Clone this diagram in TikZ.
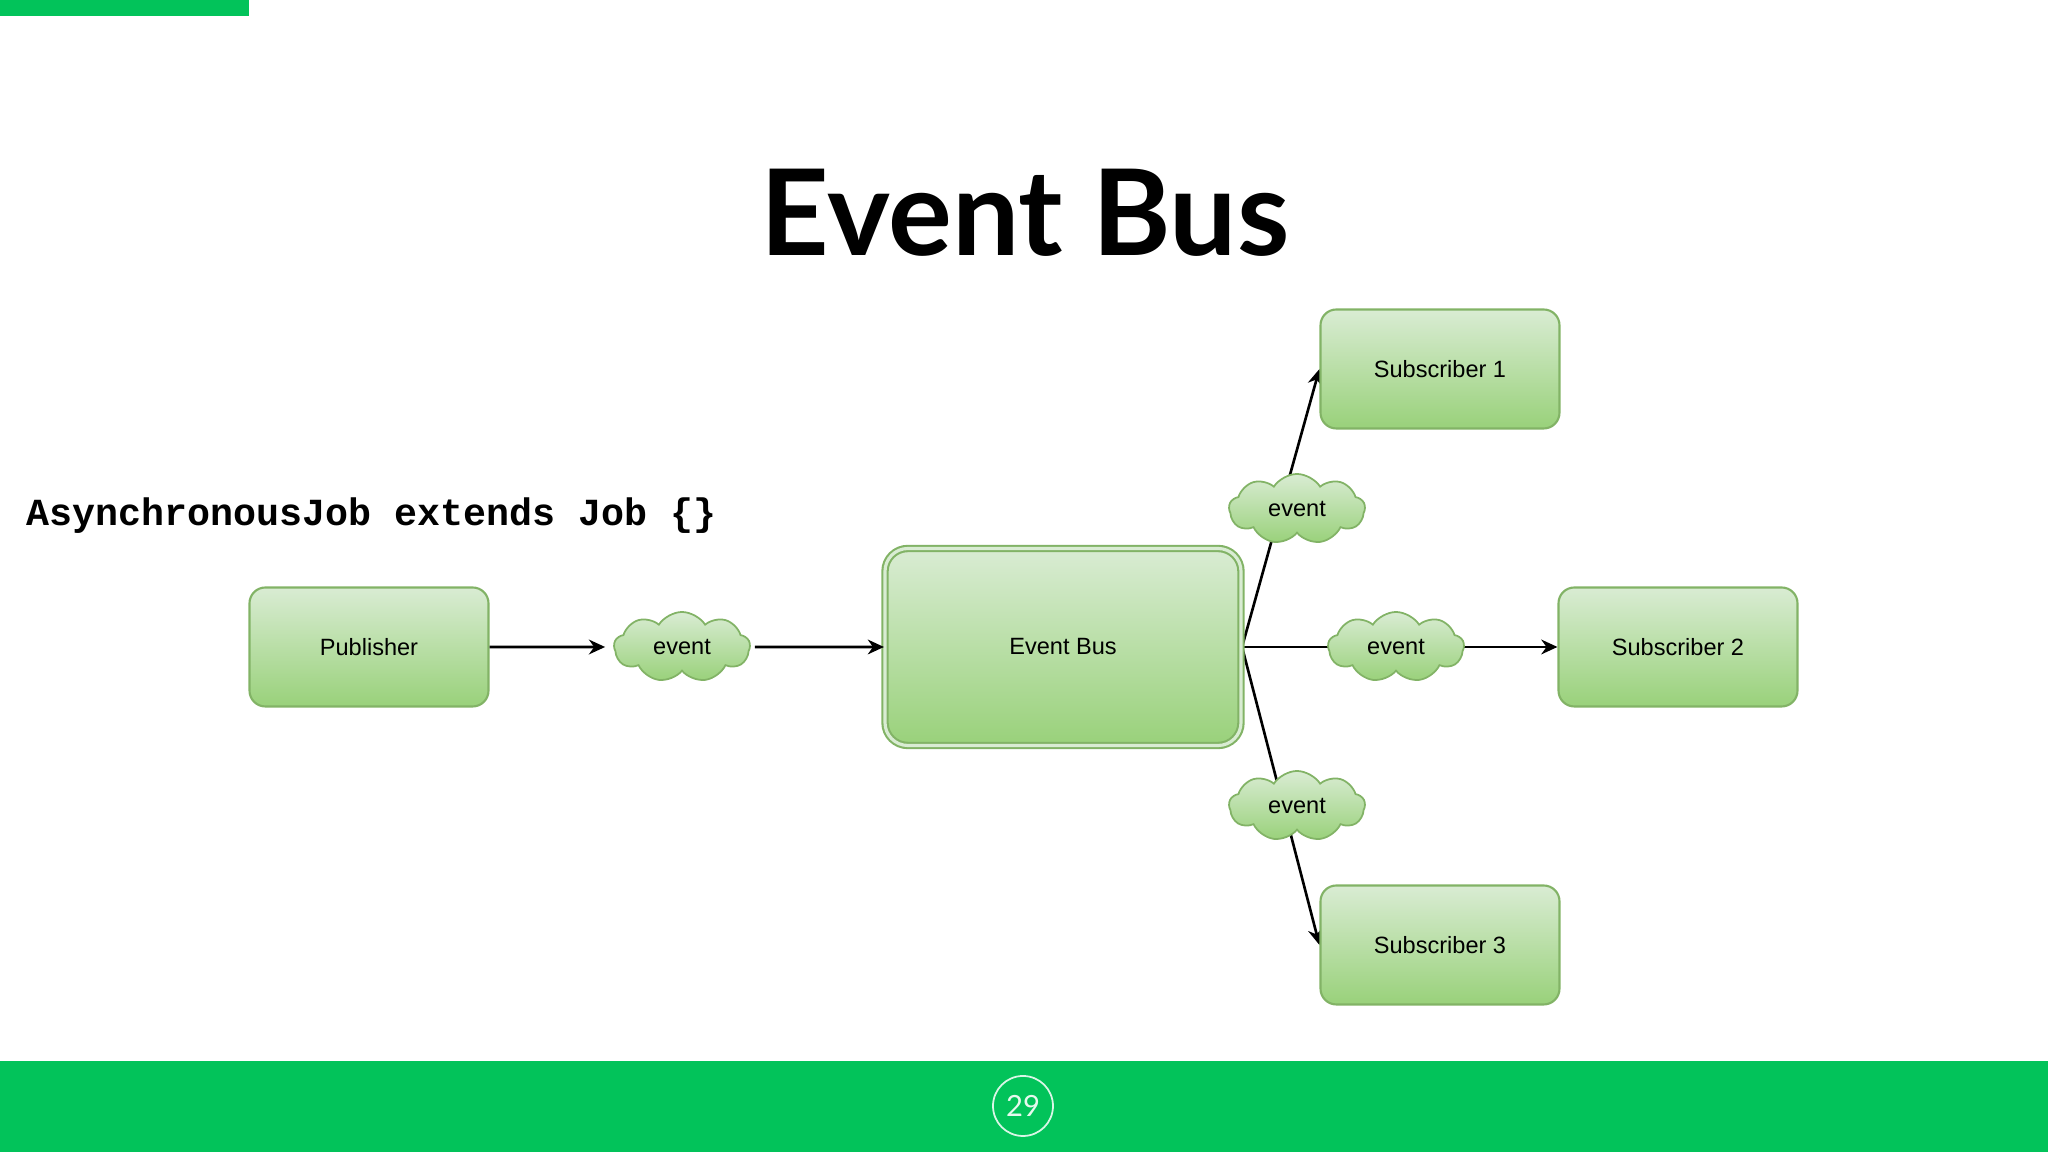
\documentclass[tikz,border=0pt]{standalone}
\usepackage{fontspec}
\setmainfont{Liberation Sans}
\setmonofont{Liberation Mono}
\newfontfamily\titlefont{Lato}
\usepackage{xcolor}
\usepackage{tikz}
\usetikzlibrary{shapes.symbols,arrows.meta,positioning,backgrounds}
\definecolor{slidegreen}{HTML}{02C35A}
\definecolor{boxtop}{HTML}{D9ECD3}
\definecolor{boxbot}{HTML}{99D17A}
\definecolor{boxline}{HTML}{82B366}

\begin{document}
\begin{tikzpicture}[
  box/.style={draw=boxline, line width=0.6pt, rounded corners=4.5pt, top color=boxtop, bottom color=boxbot, minimum width=2.39cm, minimum height=1.19cm, align=center, font=\fontsize{6.7}{8}\selectfont},
  busbox/.style={box, rounded corners=6.5pt, minimum width=3.56cm, minimum height=1.97cm, double=boxtop, double distance=0.9pt},
  evt/.style={cloud, cloud puffs=9, cloud puff arc=115, aspect=2.1, draw=boxline, line width=0.5pt, top color=boxtop, bottom color=boxbot, minimum width=1.36cm, minimum height=0.7cm, inner sep=0pt, font=\fontsize{6.7}{8}\selectfont},
  arr/.style={-{Stealth[length=4.6pt,width=4.2pt]}, line width=0.75pt},
]
\useasboundingbox (0,0) rectangle (20.48,11.52);
\fill[slidegreen] (0,11.36) rectangle (2.49,11.52);
\fill[slidegreen] (0,0) rectangle (20.48,0.91);
\node[draw=white!85!slidegreen, line width=0.5pt, circle, minimum size=0.6cm, inner sep=0pt, text=white!90!slidegreen, font=\titlefont\fontsize{8.3}{10}\selectfont] (page) at (10.23,0.46) {29};

\node[font=\titlefont\bfseries\fontsize{34}{40}\selectfont] (title) at (10.25,9.39) {Event Bus};
\node[anchor=west, inner sep=0pt, font=\ttfamily\bfseries\fontsize{10.9}{13}\selectfont] (code) at (0.26,6.36) {AsynchronousJob extends Job \{\}};

\node[box] (pub) at (3.69,5.05) {Publisher};
\node[evt] (ev1) at (6.82,5.05) {event};
\node[busbox] (bus) at (10.63,5.05) {Event Bus};
\node[box] (sub1) at (14.40,7.83) {Subscriber 1};
\node[box] (sub2) at (16.78,5.05) {Subscriber 2};
\node[box] (sub3) at (14.40,2.07) {Subscriber 3};
\node[evt] (evT) at (12.97,6.43) {event};
\node[evt] (evM) at (13.96,5.05) {event};
\node[evt] (evB) at (12.97,3.46) {event};

\draw[arr] (pub.east) -- ([xshift=-0.08cm]ev1.west);
\draw[arr] ([xshift=0.04cm]ev1.east) -- (bus.west);
\begin{scope}[on background layer]
\draw[arr] (bus.east) -- (sub1.west);
\draw[arr] (bus.east) -- (sub2.west);
\draw[arr] (bus.east) -- (sub3.west);
\end{scope}
\end{tikzpicture}
\end{document}
